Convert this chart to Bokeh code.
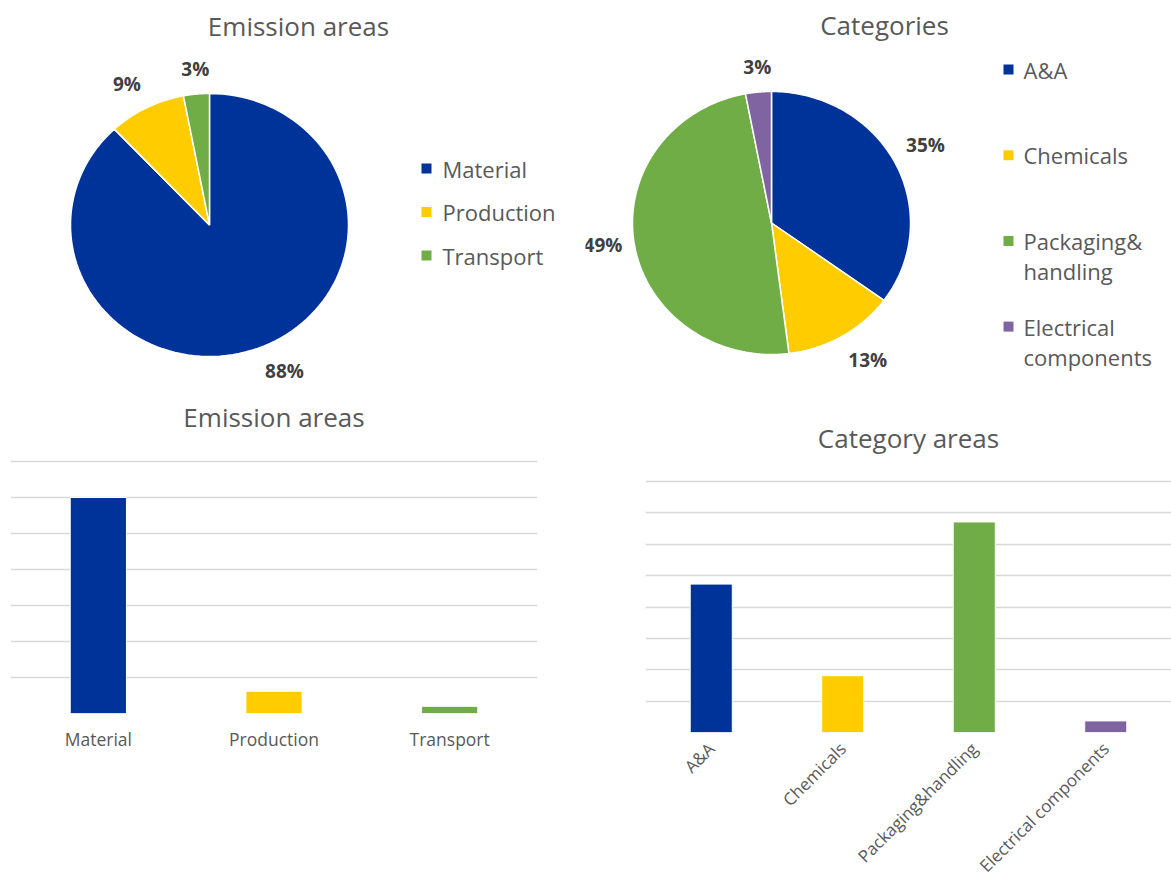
import numpy as np
from bokeh.plotting import figure
from bokeh.models import Range1d, FactorRange, FixedTicker, ColumnDataSource
from bokeh.layouts import column, row
from bokeh.core.properties import value
from bokeh.embed import file_html
from bokeh.resources import INLINE

# ---------------- data ----------------
emission_labels = ["Material", "Production", "Transport"]
emission_share = [88, 9, 3]
emission_colors = ["#003399", "#FFCC00", "#70AD47"]
emission_bar = [6.0, 0.62, 0.2]

category_labels = ["A&A", "Chemicals", "Packaging&handling", "Electrical components"]
category_legend = ["A&A", "Chemicals", "Packaging&\nhandling", "Electrical\ncomponents"]
category_share = [35, 13, 49, 3]
category_colors = ["#003399", "#FFCC00", "#70AD47", "#8064A2"]
category_bar = [4.73, 1.81, 6.71, 0.37]

FONT = "Open Sans"
GRAY = "#595959"
DARK = "#404040"
TOP_H = 388
BOT_H = 489


def pie_figure(width, cx, cy, rx, ry, shares, colors, title, title_x, title_y,
               legend_labels, sq_x, txt_x, leg_y0, leg_dy):
    p = figure(width=width, height=TOP_H, x_range=Range1d(0, width),
               y_range=Range1d(TOP_H, 0), output_backend="svg",
               toolbar_location=None, min_border=0)
    p.axis.visible = False
    p.grid.visible = False
    p.outline_line_color = None

    total = float(sum(shares))
    cum = np.concatenate([[0.0], np.cumsum(shares) / total])
    xs, ys, lx, ly, lt, la, lb = [], [], [], [], [], [], []
    for i, s in enumerate(shares):
        t0, t1 = 2 * np.pi * cum[i], 2 * np.pi * cum[i + 1]
        th = np.linspace(t0, t1, 120)
        xs.append([cx] + list(cx + rx * np.sin(th)))
        ys.append([cy] + list(cy - ry * np.cos(th)))
        mid = 0.5 * (t0 + t1)
        sx, cy_ = np.sin(mid), np.cos(mid)
        g = 12
        lx.append(cx + (rx + g) * sx)
        ly.append(cy - (ry + g) * cy_)
        lt.append(f"{s}%")
        la.append("left" if sx > 0.25 else ("right" if sx < -0.25 else "center"))
        lb.append("bottom" if cy_ > 0.25 else ("top" if cy_ < -0.25 else "middle"))
    p.patches(xs=xs, ys=ys, fill_color=colors, line_color="white", line_width=1.5)
    p.text(x=lx, y=ly, text=lt, text_align=la, text_baseline=lb,
           text_font=value(FONT), text_font_size="19px", text_font_style="bold",
           text_color=DARK)

    p.text(x=[title_x], y=[title_y], text=[title], text_align="center",
           text_baseline="middle", text_font=value(FONT), text_font_size="26px",
           text_color=GRAY)

    # legend
    sqx, sqy, tx, ty, tt = [], [], [], [], []
    for i, lab in enumerate(legend_labels):
        y = leg_y0 + i * leg_dy
        sqx.append(sq_x)
        sqy.append(y)
        for j, line in enumerate(lab.split("\n")):
            tx.append(txt_x)
            ty.append(y + j * 30)
            tt.append(line)
    p.scatter(x=sqx, y=sqy, marker="square", size=10, fill_color=colors,
              line_color=None)
    p.text(x=tx, y=ty, text=tt, text_align="left", text_baseline="middle",
           text_font=value(FONT), text_font_size="22px", text_color=GRAY)
    return p


def bar_figure(cats, vals, colors, ymax, fw, grid_h, bl, br, gap_top, bb, title,
               title_dy, label_size, orientation, label_standoff):
    # frame spans from the row top down to the baseline; the grid occupies
    # the lowest grid_h pixels, the area above holds the title
    fh = gap_top + grid_h
    yend = ymax * fh / grid_h
    px_per_unit = grid_h / ymax
    p = figure(x_range=FactorRange(*cats), y_range=Range1d(0, yend),
               frame_width=fw, frame_height=fh, min_border_left=bl,
               min_border_right=br, min_border_top=0, min_border_bottom=bb,
               output_backend="svg", toolbar_location=None)
    src = ColumnDataSource(dict(x=cats, top=vals, color=colors))
    p.vbar(x="x", top="top", width=0.32, fill_color="color", line_color="white",
           line_width=1, source=src)
    p.yaxis.visible = False
    p.xgrid.visible = False
    p.ygrid.ticker = FixedTicker(ticks=list(range(0, ymax + 1)))
    p.ygrid.grid_line_color = "#D9D9D9"
    p.ygrid.grid_line_width = 1.5
    p.outline_line_color = None
    p.xaxis.axis_line_color = None
    p.xaxis.major_tick_line_color = None
    p.xaxis.minor_tick_line_color = None
    p.xaxis.major_label_text_color = GRAY
    p.xaxis.major_label_text_font = FONT
    p.xaxis.major_label_text_font_size = label_size
    p.xaxis.major_label_standoff = label_standoff
    if orientation:
        p.xaxis.major_label_orientation = orientation
    n = len(cats)
    p.text(x=[n / 2.0], y=[yend - title_dy / px_per_unit], text=[title],
           text_align="center", text_baseline="middle", text_font=value(FONT),
           text_font_size="26px", text_color=GRAY)
    return p


pie1 = pie_figure(585, 209, 224.5, 139, 131.5, emission_share, emission_colors,
                  "Emission areas", 298, 25, emission_labels, 426, 442, 168, 43.5)
pie2 = pie_figure(586, 186, 222.5, 139, 131.5, category_share, category_colors,
                  "Categories", 299, 24, category_legend, 423, 438, 69, 85.7)

bar1 = bar_figure(emission_labels, emission_bar, emission_colors, 7,
                  527, 252, 10, 48, 73, 164, "Emission areas", 28, "17.5px", None, 7)
bar2 = bar_figure(category_labels, category_bar, category_colors, 8,
                  526, 251, 60, 0, 93, 145, "Category areas", 49, "17px", np.pi / 4, 7)

layout = column(row(pie1, pie2), row(column(bar1), column(bar2)))

with open("out.html", "w") as f:
    f.write(file_html(layout, INLINE))
